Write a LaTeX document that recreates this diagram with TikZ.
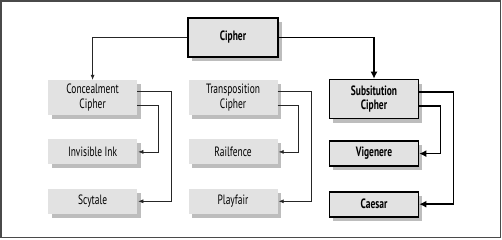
\documentclass[tikz,border=0pt]{standalone}
\usepackage{fontspec}
\setmainfont{PT Sans}[FakeStretch=0.7]
\usetikzlibrary{arrows.meta, positioning, shadows}
\definecolor{grisCaja}{HTML}{E2E2E2}
\definecolor{grisMarco}{HTML}{4A4A4A}
\definecolor{grisSombra}{HTML}{BDBDBD}
\colorlet{colLinea}{black!85}
\tikzset{
  cajaBase/.style={
    minimum width=89pt, minimum height=25pt,
    align=center, font=\fontsize{13.5}{14.5}\selectfont, text=black,
    fill=grisCaja, inner sep=1pt,
    drop shadow={shadow xshift=3.5pt, shadow yshift=-4pt, fill=grisSombra, opacity=1}
  },
  cajaPadre/.style={cajaBase, minimum height=35pt},
  cajaFuerte/.style={cajaBase, draw=black, line width=1.6pt,
    font=\fontsize{13.5}{14.5}\selectfont\bfseries},
  flecha/.style={-{Latex[length=5pt, width=4pt]}, line width=0.6pt, colLinea},
  flechaFuerte/.style={-{Latex[length=7pt, width=7pt]}, line width=1.5pt, black},
}
\begin{document}
\begin{tikzpicture}[x=1pt, y=1pt]
    \useasboundingbox (0,0) rectangle (502,-239);
    \draw[grisMarco, line width=1.3pt] (1,-1) rectangle (500.5,-237.5);
    \node[cajaFuerte, minimum width=90pt, minimum height=39pt] (cipher) at (233,-37.5) {Cipher};
    \node[cajaPadre, below=22pt of cipher] (trans) {Transposition\\Cipher};
    \node[cajaPadre, left=51pt of trans] (conc) {Concealment\\Cipher};
    \node[cajaFuerte, minimum height=39pt, right=51pt of trans, yshift=-1.5pt] (subs) {Subsitution\\Cipher};
    \node[cajaBase, below=24pt of conc] (inv) {Invisible Ink};
    \node[cajaBase, below=24pt of inv] (scy) {Scytale};
    \node[cajaBase, below=24pt of trans] (rail) {Railfence};
    \node[cajaBase, below=24pt of rail] (play) {Playfair};
    \node[cajaFuerte, below=21pt of subs] (vig) {Vigenere};
    \node[cajaFuerte, below=24pt of vig] (caes) {Caesar};
    % de la raiz a las familias
    \draw[flecha] (cipher.west) -| (conc.north);
    \draw[flechaFuerte] (cipher.east) -| (subs.north);
    % familias a sus ejemplos
    \draw[flecha] ([yshift=6pt]conc.east) -- ++(34pt,0) |- ([xshift=1pt]scy.east);
    \draw[flecha] ([yshift=-7.5pt]conc.east) -- ++(21pt,0) |- ([xshift=1pt]inv.east);
    \draw[flecha] ([yshift=6pt]trans.east) -- ++(34pt,0) |- ([xshift=1pt]play.east);
    \draw[flecha] ([yshift=-7.5pt]trans.east) -- ++(21pt,0) |- ([xshift=1pt]rail.east);
    \draw[flechaFuerte] ([yshift=7pt]subs.east) -- ++(34pt,0) |- (caes.east);
    \draw[flechaFuerte] ([yshift=-7pt]subs.east) -- ++(21pt,0) |- (vig.east);
  \end{tikzpicture}
\end{document}
